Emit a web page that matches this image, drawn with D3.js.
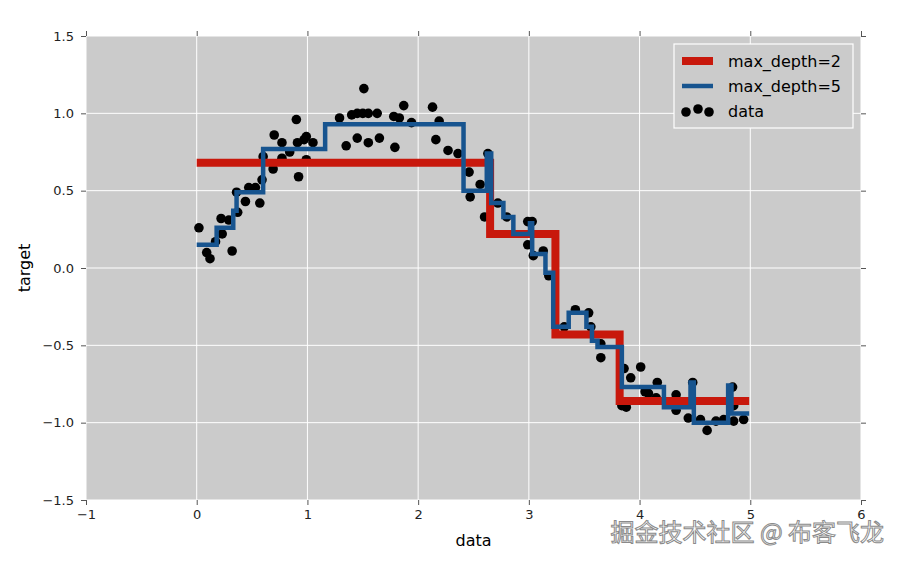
<!DOCTYPE html>
<html>
<head>
<meta charset="utf-8">
<script src="https://cdn.jsdelivr.net/npm/d3@7"></script>
<style>
  body { margin: 0; background: #fff; }
  text { font-family: "DejaVu Sans", sans-serif; }
</style>
</head>
<body>
<div id="chart"></div>
<script>
// data
const dataX = [0.02, 0.09, 0.12, 0.17, 0.22, 0.23, 0.29, 0.32, 0.36, 0.37, 0.44, 0.47, 0.53, 0.57, 0.59, 0.60,
  0.69, 0.70, 0.77, 0.77, 0.84, 0.90, 0.92, 0.91, 0.97, 0.99, 1.05, 0.99, 1.29, 1.35, 1.40, 1.45, 1.45, 1.51,
  1.50, 1.55, 1.55, 1.63, 1.65, 1.78, 1.79, 1.83, 1.87, 1.94, 2.13, 2.16, 2.19, 2.27, 2.36, 2.46, 2.47, 2.56,
  2.60, 2.63, 2.72, 2.80, 2.99, 3.03, 2.99, 3.04, 3.13, 3.18, 3.32, 3.42, 3.54, 3.56, 3.65, 3.65, 3.86, 3.92,
  4.01, 3.88, 3.84, 4.05, 4.08, 4.16, 4.15, 4.33, 4.33, 4.44, 4.48, 4.55, 4.61, 4.69, 4.76, 4.84, 4.85, 4.85, 4.94]
const dataY = [0.26, 0.10, 0.06, 0.17, 0.32, 0.22, 0.31, 0.11, 0.49, 0.36, 0.43, 0.52, 0.52, 0.42, 0.57, 0.72,
  0.64, 0.86, 0.81, 0.71, 0.75, 0.96, 0.59, 0.81, 0.83, 0.85, 0.81, 0.70, 0.97, 0.79, 0.99, 1.00, 0.84, 1.16,
  1.00, 1.00, 0.81, 1.00, 0.84, 0.98, 0.78, 0.97, 1.05, 0.94, 1.04, 0.83, 0.95, 0.76, 0.74, 0.62, 0.46, 0.54,
  0.33, 0.74, 0.42, 0.33, 0.30, 0.30, 0.15, 0.08, 0.11, -0.05, -0.38, -0.27, -0.29, -0.38, -0.49, -0.58, -0.65, -0.71,
  -0.64, -0.90, -0.89, -0.80, -0.81, -0.74, -0.84, -0.82, -0.92, -0.97, -0.74, -0.98, -1.05, -0.99, -0.98, -0.77, -0.89, -0.99, -0.98]

// step starts of the two regression curves
const depth2X = [0, 2.65, 3.24, 3.82, 4.99]
const depth2Y = [0.68, 0.22, -0.43, -0.86, -0.86]
const depth5X = [0, 0.18, 0.33, 0.36, 0.60, 1.16, 2.41, 2.62, 2.66, 2.77, 2.86, 3.01, 3.03, 3.15, 3.22, 3.36,
  3.52, 3.57, 3.62, 3.84, 4.22, 4.46, 4.49, 4.80, 4.83, 4.99]
const depth5Y = [0.15, 0.26, 0.37, 0.49, 0.77, 0.93, 0.50, 0.74, 0.42, 0.33, 0.22, 0.29, 0.09, -0.03, -0.38, -0.29,
  -0.38, -0.47, -0.51, -0.77, -0.90, -0.74, -1.00, -0.76, -0.94, -0.94]

const xTicks = [-1, 0, 1, 2, 3, 4, 5, 6]
const yTicks = [-1.5, -1.0, -0.5, 0.0, 0.5, 1.0, 1.5]
const legendLabels = ["max_depth=2", "max_depth=5", "data"]

const width = 902
const height = 563
const pl = 86, pr = 861, pt = 36, pb = 500
const red = "#c8180c", blue = "#17548f"

let svg = d3.select("#chart")
            .append("svg")
            .attr("width", width)
            .attr("height", height)

let x = d3.scaleLinear().domain([-1, 6]).range([pl, pr])
let y = d3.scaleLinear().domain([-1.5, 1.5]).range([pb, pt])

svg.append("rect")
   .attr("x", pl).attr("y", pt)
   .attr("width", pr - pl).attr("height", pb - pt)
   .attr("fill", "#cbcbcb")

//grid
svg.append("g").selectAll("line")
   .data(xTicks).enter().append("line")
   .attr("x1", d => x(d)).attr("x2", d => x(d))
   .attr("y1", pt).attr("y2", pb)
   .attr("stroke", "#fff").attr("stroke-width", 1)
svg.append("g").selectAll("line")
   .data(yTicks).enter().append("line")
   .attr("y1", d => y(d)).attr("y2", d => y(d))
   .attr("x1", pl).attr("x2", pr)
   .attr("stroke", "#fff").attr("stroke-width", 1)

//axes, ticks outward on all sides
function styleAxis(g) {
  g.select(".domain").remove()
  g.selectAll(".tick line").attr("stroke", "#555")
  g.selectAll(".tick text").attr("fill", "#222").style("font-size", "13px")
}
svg.append("g").attr("transform", `translate(0,${pb})`)
   .call(d3.axisBottom(x).tickValues(xTicks).tickFormat(d3.format("d")).tickSize(5).tickPadding(5))
   .call(styleAxis)
svg.append("g").attr("transform", `translate(${pl},0)`)
   .call(d3.axisLeft(y).tickValues(yTicks).tickFormat(d3.format(".1f")).tickSize(5).tickPadding(7))
   .call(styleAxis)
svg.append("g").attr("transform", `translate(0,${pt})`)
   .call(d3.axisTop(x).tickValues(xTicks).tickFormat("").tickSize(5))
   .call(styleAxis)
svg.append("g").attr("transform", `translate(${pr},0)`)
   .call(d3.axisRight(y).tickValues(yTicks).tickFormat("").tickSize(5))
   .call(styleAxis)

svg.append("text")
   .attr("x", (pl + pr) / 2).attr("y", 546)
   .attr("text-anchor", "middle")
   .style("font-size", "16px")
   .text("data")
svg.append("text")
   .attr("transform", `translate(30,${(pt + pb) / 2}) rotate(-90)`)
   .attr("text-anchor", "middle")
   .style("font-size", "16px")
   .text("target")

//points
svg.append("g").selectAll("circle")
   .data(dataX).enter().append("circle")
   .attr("cx", d => x(d))
   .attr("cy", (d, i) => y(dataY[i]))
   .attr("r", 4.8)
   .attr("fill", "#000")

//step lines
let step = d3.line().curve(d3.curveStepAfter).x(d => x(d[0])).y(d => y(d[1]))
svg.append("path")
   .attr("d", step(d3.zip(depth2X, depth2Y)))
   .attr("fill", "none").attr("stroke", red).attr("stroke-width", 8)
svg.append("path")
   .attr("d", step(d3.zip(depth5X, depth5Y)))
   .attr("fill", "none").attr("stroke", blue).attr("stroke-width", 4.5)

//legend
let legend = svg.append("g").attr("id", "legend")
legend.append("rect")
      .attr("x", 674).attr("y", 44).attr("width", 179).attr("height", 84)
      .attr("fill", "#cbcbcb").attr("stroke", "#fff").attr("stroke-width", 1.2)
const rowY = [61, 86, 111]
legend.append("line").attr("x1", 682).attr("x2", 713).attr("y1", rowY[0]).attr("y2", rowY[0])
      .attr("stroke", red).attr("stroke-width", 8)
legend.append("line").attr("x1", 682).attr("x2", 713).attr("y1", rowY[1]).attr("y2", rowY[1])
      .attr("stroke", blue).attr("stroke-width", 4.5)
legend.selectAll("circle")
      .data([[686, 1], [698, -2], [709, 1]]).enter().append("circle")
      .attr("cx", d => d[0]).attr("cy", d => rowY[2] + d[1])
      .attr("r", 4.8).attr("fill", "#000")
legend.selectAll("text.lbl")
      .data(legendLabels).enter().append("text")
      .attr("class", "lbl")
      .attr("x", 728).attr("y", (d, i) => rowY[i] + 6)
      .style("font-size", "16px")
      .text(d => d)

//watermark
svg.append("text")
   .attr("x", 884).attr("y", 541)
   .attr("text-anchor", "end")
   .style("font-family", "'Noto Sans CJK SC', sans-serif")
   .style("font-size", "24px")
   .attr("fill", "#fff").attr("stroke", "#8a8a8a").attr("stroke-width", 1)
   .text("掘金技术社区 @ 布客飞龙")
</script>
</body>
</html>
